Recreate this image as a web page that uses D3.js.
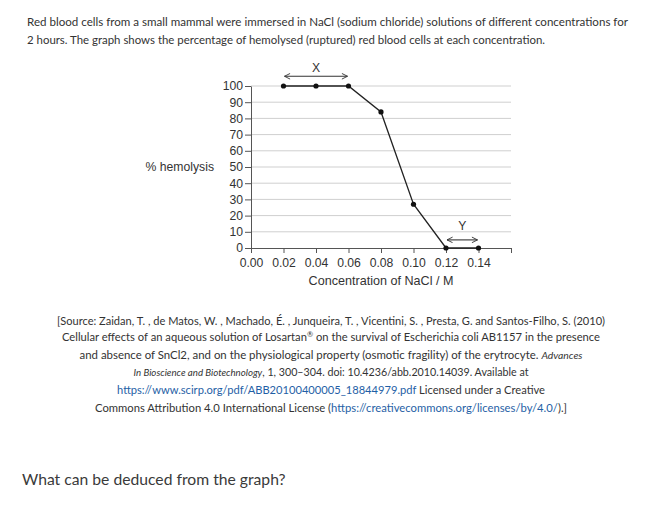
<!DOCTYPE html>
<html>
<head>
<meta charset="utf-8">
<script src="https://cdn.jsdelivr.net/npm/d3@7"></script>
<style>
  body { margin: 0; background: #fff; }
  svg { display: block; }
</style>
</head>
<body>
<script>
// data
const concentration = [0.02, 0.04, 0.06, 0.08, 0.10, 0.12, 0.14];
const hemolysis = [100, 100, 100, 84, 27, 0, 0];
const xTickValues = [0, 0.02, 0.04, 0.06, 0.08, 0.10, 0.12, 0.14, 0.16];
const yTickValues = [0, 10, 20, 30, 40, 50, 60, 70, 80, 90, 100];
const rangeLabels = ['X', 'Y'];
const rangeFrom = [0.02, 0.12];
const rangeTo = [0.06, 0.14];
const rangeLevel = [106, 5];

const W = 661, H = 508;
const textColor = '#333';
const linkColor = '#1f5fa6';
const labelGap = [9, 14];

let svg = d3.select('body').append('svg')
	.attr('width', W)
	.attr('height', H);

// question intro
const intro = [
	'Red blood cells from a small mammal were immersed in NaCl (sodium chloride) solutions of different concentrations for',
	'2 hours. The graph shows the percentage of hemolysed (ruptured) red blood cells at each concentration.'
];
const introLen = [601, 518];
intro.forEach((t, i) => {
	svg.append('text')
		.attr('x', 27)
		.attr('y', 26 + i * 18)
		.attr('font-family', 'Lato, sans-serif')
		.attr('font-size', '11.5px')
		.attr('fill', textColor)
		.attr('textLength', introLen[i])
		.attr('lengthAdjust', 'spacingAndGlyphs')
		.text(t);
});

// ****************** Chart ***************************
let x = d3.scaleLinear().domain([0, 0.16]).range([251, 511]);
let y = d3.scaleLinear().domain([0, 100]).range([248, 86]);

const chartFont = '"Liberation Sans", Arial, sans-serif';
const chartSize = '12.2px';

// gridlines
svg.append('g')
	.selectAll('line')
	.data(yTickValues.filter(d => d > 0))
	.join('line')
	.attr('x1', x(0)).attr('x2', x(0.16))
	.attr('y1', d => y(d)).attr('y2', d => y(d))
	.attr('stroke', '#cfcfcf')
	.attr('stroke-width', 1);

let yAxis = svg.append('g')
	.attr('transform', 'translate(' + x(0) + ',0)')
	.call(d3.axisLeft(y).tickValues(yTickValues).tickSize(6).tickPadding(2).tickSizeOuter(0));

let xAxis = svg.append('g')
	.attr('transform', 'translate(0,' + y(0) + ')')
	.call(d3.axisBottom(x).tickValues(xTickValues).tickSize(5).tickPadding(5).tickSizeOuter(0)
		.tickFormat(d => d >= 0.159 ? '' : d3.format('.2f')(d)));

[xAxis, yAxis].forEach(a => {
	a.selectAll('path, line').attr('stroke', '#555');
	a.selectAll('text')
		.attr('fill', textColor)
		.attr('font-family', chartFont)
		.attr('font-size', chartSize);
});

svg.append('text')
	.attr('x', 214)
	.attr('y', y(50) + 4.3)
	.attr('text-anchor', 'end')
	.attr('font-family', chartFont)
	.attr('font-size', chartSize)
	.attr('fill', textColor)
	.text('% hemolysis');

svg.append('text')
	.attr('x', (x(0) + x(0.16)) / 2)
	.attr('y', 285)
	.attr('text-anchor', 'middle')
	.attr('font-family', chartFont)
	.attr('font-size', '12.6px')
	.attr('fill', textColor)
	.text('Concentration of NaCl / M');

// line and points
let line = d3.line()
	.x((d, i) => x(concentration[i]))
	.y(d => y(d));

svg.append('path')
	.attr('d', line(hemolysis))
	.attr('fill', 'none')
	.attr('stroke', '#222')
	.attr('stroke-width', 1.3);

svg.append('g')
	.selectAll('circle')
	.data(hemolysis)
	.join('circle')
	.attr('cx', (d, i) => x(concentration[i]))
	.attr('cy', d => y(d))
	.attr('r', 2.6)
	.attr('fill', '#111');

// double-headed arrows X and Y
let defs = svg.append('defs');
defs.append('marker')
	.attr('id', 'head')
	.attr('viewBox', '0 0 10 10')
	.attr('refX', 9).attr('refY', 5)
	.attr('markerWidth', 7).attr('markerHeight', 7)
	.attr('markerUnits', 'userSpaceOnUse')
	.attr('orient', 'auto-start-reverse')
	.append('path')
	.attr('d', 'M1,1 L9,5 L1,9')
	.attr('fill', 'none')
	.attr('stroke', '#333')
	.attr('stroke-width', 1.3);

rangeLabels.forEach((lab, i) => {
	let yy = y(rangeLevel[i]);
	svg.append('line')
		.attr('x1', x(rangeFrom[i]) + 1).attr('x2', x(rangeTo[i]) - 1)
		.attr('y1', yy).attr('y2', yy)
		.attr('stroke', '#333')
		.attr('stroke-width', 1.1)
		.attr('marker-start', 'url(#head)')
		.attr('marker-end', 'url(#head)');
	svg.append('text')
		.attr('x', (x(rangeFrom[i]) + x(rangeTo[i])) / 2)
		.attr('y', yy - labelGap[i] + 4.3)
		.attr('text-anchor', 'middle')
		.attr('font-family', chartFont)
		.attr('font-size', chartSize)
		.attr('fill', textColor)
		.text(lab);
});

// ****************** Source ***************************
const srcFont = 'Lato, sans-serif';
const sourceLines = [
	{ y: 325, len: 548, parts: [{ t: '[Source: Zaidan, T. , de Matos, W. , Machado, É. , Junqueira, T. , Vicentini, S. , Presta, G. and Santos-Filho, S. (2010)' }] },
	{ y: 341, len: 538, parts: [{ t: 'Cellular effects of an aqueous solution of Losartan' }, { t: '®', sup: true }, { t: ' on the survival of Escherichia coli AB1157 in the presence' }] },
	{ y: 359, len: 503, parts: [{ t: 'and absence of SnCl2, and on the physiological property (osmotic fragility) of the erytrocyte. ' }, { t: 'Advances', it: true }] },
	{ y: 376, len: 395, parts: [{ t: 'In Bioscience and Biotechnology', it: true }, { t: ', 1, 300–304. doi: 10.4236/abb.2010.14039. Available at' }] },
	{ y: 394, len: 428, parts: [{ t: 'https://www.scirp.org/pdf/ABB20100400005_18844979.pdf', link: true }, { t: ' Licensed under a Creative' }] },
	{ y: 412, len: 472, parts: [{ t: 'Commons Attribution 4.0 International License (' }, { t: 'https://creativecommons.org/licenses/by/4.0/', link: true }, { t: ').]' }] }
];

sourceLines.forEach(l => {
	let txt = svg.append('text')
		.attr('x', 331)
		.attr('y', l.y)
		.attr('text-anchor', 'middle')
		.attr('font-family', srcFont)
		.attr('font-size', '10.5px')
		.attr('fill', textColor)
		.attr('textLength', l.len)
		.attr('lengthAdjust', 'spacingAndGlyphs');
	l.parts.forEach(p => {
		let ts = txt.append('tspan').text(p.t);
		if (p.link) ts.attr('fill', linkColor);
		if (p.it) ts.attr('font-style', 'italic').attr('font-size', '9.5px');
		if (p.sup) ts.attr('font-size', '7px').attr('baseline-shift', 'super');
	});
});

// question
svg.append('text')
	.attr('x', 22)
	.attr('y', 485)
	.attr('font-family', 'Lato, sans-serif')
	.attr('font-size', '15.7px')
	.attr('fill', '#3a3a3a')
	.text('What can be deduced from the graph?');
</script>
</body>
</html>
